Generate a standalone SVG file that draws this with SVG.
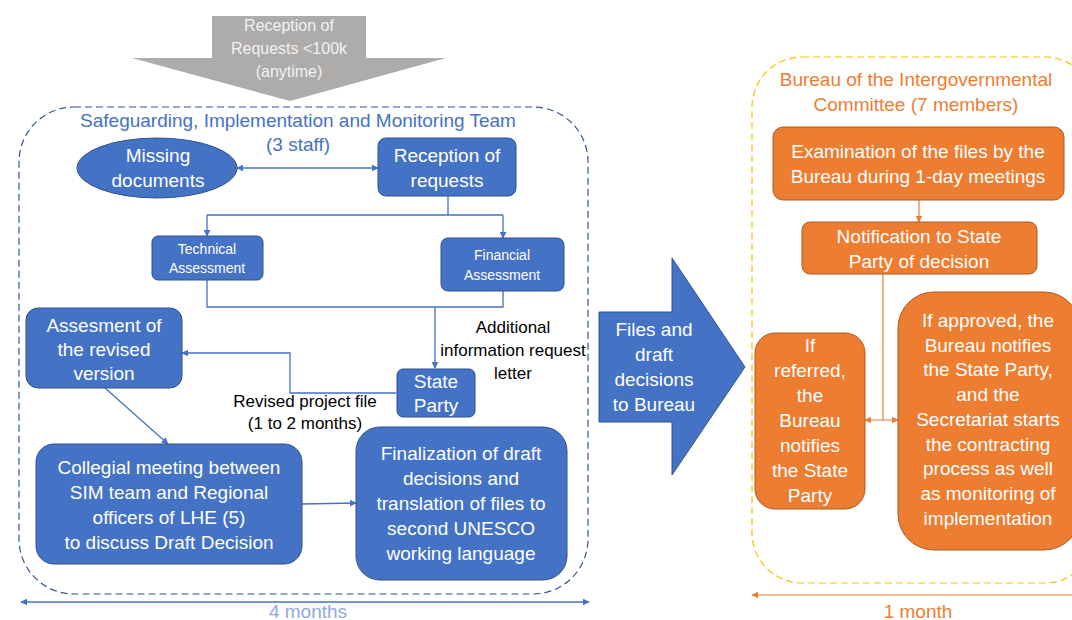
<svg xmlns="http://www.w3.org/2000/svg" width="1072" height="620" viewBox="0 0 1072 620">
<style>
text{font-family:"Liberation Sans",Arial,sans-serif;text-anchor:middle}
.w{fill:#fff;font-size:19px}
.ws{fill:#fff;font-size:14px}
.k{fill:#000;font-size:17px}
.bn{fill:#4472C4;stroke:#2F528F;stroke-width:1}
.on{fill:#ED7D31;stroke:#AE5A21;stroke-width:1}
.bc{fill:none;stroke:#4472C4;stroke-width:1.3}
.oc{fill:none;stroke:#ED7D31;stroke-width:1.2}
</style>
<defs>
<marker id="ab" viewBox="0 0 10 10" refX="9" refY="5" markerWidth="7" markerHeight="7" markerUnits="userSpaceOnUse" orient="auto-start-reverse"><path d="M0,0 L10,5 L0,10 z" fill="#4472C4"/></marker>
<marker id="ao" viewBox="0 0 10 10" refX="9" refY="5" markerWidth="7" markerHeight="7" markerUnits="userSpaceOnUse" orient="auto-start-reverse"><path d="M0,0 L10,5 L0,10 z" fill="#ED7D31"/></marker>
</defs>
<rect width="1072" height="620" fill="#fff"/>

<g id="containers">
<rect x="19" y="107" width="569" height="487" rx="55" fill="none" stroke="#2F5597" stroke-width="1.2" stroke-dasharray="7 4"/>
<text x="298" y="127" style="fill:#4472C4;font-size:19px">Safeguarding, Implementation and Monitoring Team</text>
<text x="298" y="151" style="fill:#4472C4;font-size:19px">(3 staff)</text>
<rect x="752" y="57" width="343" height="526" rx="50" fill="none" stroke="#FFC000" stroke-width="1.2" stroke-dasharray="7 4"/>
<text x="916" y="86" style="fill:#ED7D31;font-size:19px">Bureau of the Intergovernmental</text>
<text x="916" y="111" style="fill:#ED7D31;font-size:19px">Committee (7 members)</text>
</g>

<g id="reception-arrow">
<polygon points="212,16 366,16 366,58 446,58 290,101 132,58 212,58" fill="#AEABAB"/>
<text x="289" y="31" style="fill:#F2F2F2;font-size:16px">Reception of</text>
<text x="289" y="54" style="fill:#F2F2F2;font-size:16px">Requests &lt;100k</text>
<text x="289" y="77" style="fill:#F2F2F2;font-size:16px">(anytime)</text>
</g>

<g id="connectors">
<line class="bc" x1="237" y1="168" x2="378" y2="168" marker-start="url(#ab)" marker-end="url(#ab)"/>
<path class="bc" d="M448,196 V215 M207,215 H503"/>
<path class="bc" d="M207,215 V236" marker-end="url(#ab)"/>
<path class="bc" d="M503,215 V238" marker-end="url(#ab)"/>
<path class="bc" d="M207,280 V307 H503 V291"/>
<path class="bc" d="M435,307 V368" marker-end="url(#ab)"/>
<path class="bc" d="M396,393 H290 V353 H182" marker-end="url(#ab)"/>
<path class="bc" d="M105,388 L168,444" marker-end="url(#ab)"/>
<path class="bc" d="M302,504 L356,503" marker-end="url(#ab)"/>
<line class="bc" x1="21" y1="602" x2="589" y2="602" marker-start="url(#ab)" marker-end="url(#ab)"/>
<path class="oc" d="M919,200 V222" marker-end="url(#ao)"/>
<path class="oc" d="M883,274 V420"/>
<line class="oc" x1="865" y1="420" x2="898" y2="420" marker-start="url(#ao)" marker-end="url(#ao)"/>
<line class="oc" x1="752" y1="595" x2="1072" y2="595" marker-start="url(#ao)"/>
</g>

<g id="labels">
<text class="k" x="305" y="407">Revised project file</text>
<text class="k" x="305" y="429">(1 to 2 months)</text>
<text class="k" x="513" y="333">Additional</text>
<text class="k" x="513" y="356">information request</text>
<text class="k" x="513" y="379">letter</text>
<text x="308" y="618" style="fill:#8FAADC;font-size:19px">4 months</text>
<text x="918" y="618" style="fill:#ED7D31;font-size:19px">1 month</text>
</g>

<g id="missing-documents">
<ellipse class="bn" cx="157" cy="168" rx="80" ry="30"/>
<text class="w" x="158" y="162">Missing</text>
<text class="w" x="158" y="187">documents</text>
</g>

<g id="reception-of-requests">
<rect class="bn" x="378" y="138" width="138" height="58" rx="8"/>
<text class="w" x="447" y="162">Reception of</text>
<text class="w" x="447" y="187">requests</text>
</g>

<g id="technical-assessment">
<rect class="bn" x="152" y="236" width="111" height="44" rx="6"/>
<text class="ws" x="207" y="254">Technical</text>
<text class="ws" x="207" y="273">Assessment</text>
</g>

<g id="financial-assessment">
<rect class="bn" x="441" y="238" width="123" height="53" rx="7"/>
<text class="ws" x="502" y="260">Financial</text>
<text class="ws" x="502" y="280">Assessment</text>
</g>

<g id="state-party">
<rect class="bn" x="397" y="369" width="78" height="48" rx="6"/>
<text class="w" x="436" y="388">State</text>
<text class="w" x="436" y="412">Party</text>
</g>

<g id="assesment-revised">
<rect class="bn" x="26" y="308" width="156" height="80" rx="12"/>
<text class="w" x="104" y="332">Assesment of</text>
<text class="w" x="104" y="356">the revised</text>
<text class="w" x="104" y="380">version</text>
</g>

<g id="collegial-meeting">
<rect class="bn" x="36" y="444" width="266" height="120" rx="18"/>
<text class="w" x="169" y="474">Collegial meeting between</text>
<text class="w" x="169" y="499">SIM team and Regional</text>
<text class="w" x="169" y="524">officers of LHE (5)</text>
<text class="w" x="169" y="549">to discuss Draft Decision</text>
</g>

<g id="finalization">
<rect class="bn" x="356" y="427" width="211" height="153" rx="24"/>
<text class="w" x="461" y="460">Finalization of draft</text>
<text class="w" x="461" y="485">decisions and</text>
<text class="w" x="461" y="510">translation of files to</text>
<text class="w" x="461" y="535">second UNESCO</text>
<text class="w" x="461" y="560">working language</text>
</g>

<g id="files-to-bureau">
<polygon class="bn" points="599,312 672,312 672,258 745,367 672,475 672,422 599,422"/>
<text class="w" x="654" y="336">Files and</text>
<text class="w" x="654" y="361">draft</text>
<text class="w" x="654" y="386">decisions</text>
<text class="w" x="654" y="411">to Bureau</text>
</g>

<g id="examination">
<rect class="on" x="773" y="127" width="291" height="73" rx="10"/>
<text class="w" x="918" y="158">Examination of the files by the</text>
<text class="w" x="918" y="183">Bureau during 1-day meetings</text>
</g>

<g id="notification">
<rect class="on" x="802" y="222" width="235" height="52" rx="8"/>
<text class="w" x="919" y="243">Notification to State</text>
<text class="w" x="919" y="268">Party of decision</text>
</g>

<g id="if-referred">
<rect class="on" x="755" y="333" width="110" height="176" rx="20"/>
<text class="w" x="810" y="352">If</text>
<text class="w" x="810" y="377">referred,</text>
<text class="w" x="810" y="402">the</text>
<text class="w" x="810" y="427">Bureau</text>
<text class="w" x="810" y="452">notifies</text>
<text class="w" x="810" y="477">the State</text>
<text class="w" x="810" y="502">Party</text>
</g>

<g id="if-approved">
<rect class="on" x="898" y="292" width="182" height="258" rx="36"/>
<text class="w" x="988" y="327">If approved, the</text>
<text class="w" x="988" y="352">Bureau notifies</text>
<text class="w" x="988" y="376">the State Party,</text>
<text class="w" x="988" y="401">and the</text>
<text class="w" x="988" y="426">Secretariat starts</text>
<text class="w" x="988" y="451">the contracting</text>
<text class="w" x="988" y="475">process as well</text>
<text class="w" x="988" y="500">as monitoring of</text>
<text class="w" x="988" y="525">implementation</text>
</g>
</svg>
